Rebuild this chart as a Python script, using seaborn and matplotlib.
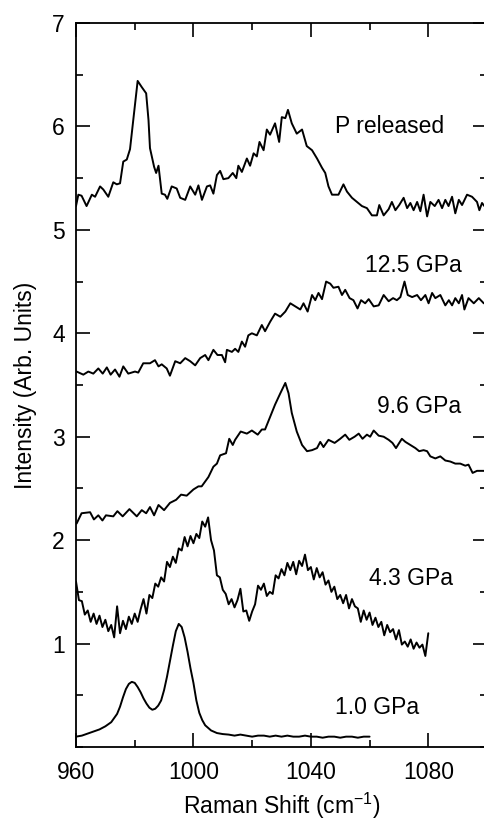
import matplotlib
matplotlib.use("Agg")
import matplotlib.pyplot as plt
import seaborn as sns
import pandas as pd
from matplotlib.ticker import MultipleLocator, FixedLocator

# Raman shift (cm^-1) and intensity (arb. units)
gpa1_x = [960, 962, 964, 966, 968, 970, 972, 974,
          975, 976, 977, 978, 979, 980, 981, 982, 983, 984,
          985, 986, 987, 988, 989, 990, 991, 992, 993, 994,
          995, 996, 997, 998, 999, 1000, 1001, 1002, 1003, 1004,
          1006, 1008, 1010, 1012, 1014, 1016, 1018, 1020, 1022, 1024,
          1026, 1028, 1030, 1032, 1034, 1036, 1038, 1040, 1042, 1044,
          1046, 1048, 1050, 1052, 1054, 1056, 1058, 1060]
gpa1_y = [0.10, 0.11, 0.13, 0.15, 0.17, 0.20, 0.24, 0.32,
          0.39, 0.48, 0.56, 0.61, 0.63, 0.62, 0.58, 0.53, 0.47, 0.42,
          0.38, 0.36, 0.37, 0.40, 0.45, 0.55, 0.68, 0.83, 0.98, 1.12,
          1.19, 1.16, 1.06, 0.92, 0.76, 0.62, 0.45, 0.33, 0.26, 0.21,
          0.16, 0.135, 0.125, 0.12, 0.11, 0.12, 0.11, 0.10, 0.11, 0.11,
          0.10, 0.11, 0.10, 0.11, 0.10, 0.10, 0.11, 0.10, 0.10, 0.09,
          0.10, 0.10, 0.09, 0.10, 0.10, 0.09, 0.10, 0.10]

gpa4_x = [960, 961, 962, 963, 964, 965, 966, 967, 968, 969,
          970, 971, 972, 973, 974, 975, 976, 977, 978, 979,
          980, 981, 982, 983, 984, 985, 986, 987, 988, 989,
          990, 991, 992, 993, 994, 995, 996, 997, 998, 999,
          1000, 1001, 1002, 1003, 1004, 1005, 1006, 1007, 1008, 1009,
          1010, 1011, 1012, 1013, 1014, 1015, 1016, 1017, 1018, 1019,
          1020, 1021, 1022, 1023, 1024, 1025, 1026, 1027, 1028, 1029,
          1030, 1031, 1032, 1033, 1034, 1035, 1036, 1037, 1038, 1039,
          1040, 1041, 1042, 1043, 1044, 1045, 1046, 1047, 1048, 1049,
          1050, 1051, 1052, 1053, 1054, 1055, 1056, 1057, 1058, 1059,
          1060, 1061, 1062, 1063, 1064, 1065, 1066, 1067, 1068, 1069,
          1070, 1071, 1072, 1073, 1074, 1075, 1076, 1077, 1078, 1079,
          1080]
gpa4_y = [1.60, 1.42, 1.41, 1.28, 1.32, 1.21, 1.29, 1.19, 1.27, 1.16,
          1.23, 1.12, 1.18, 1.06, 1.36, 1.10, 1.22, 1.14, 1.26, 1.19,
          1.29, 1.21, 1.33, 1.43, 1.29, 1.47, 1.44, 1.58, 1.55, 1.64,
          1.60, 1.79, 1.74, 1.84, 1.78, 1.92, 1.90, 2.03, 1.94, 2.04,
          1.97, 2.06, 2.02, 2.18, 2.13, 2.22, 2.00, 1.90, 1.66, 1.64,
          1.52, 1.48, 1.38, 1.43, 1.35, 1.42, 1.53, 1.31, 1.32, 1.22,
          1.31, 1.38, 1.56, 1.52, 1.58, 1.46, 1.50, 1.48, 1.66, 1.63,
          1.72, 1.66, 1.78, 1.71, 1.79, 1.67, 1.80, 1.75, 1.86, 1.71,
          1.74, 1.62, 1.73, 1.64, 1.69, 1.57, 1.61, 1.50, 1.55, 1.43,
          1.47, 1.39, 1.47, 1.34, 1.43, 1.36, 1.34, 1.21, 1.32, 1.23,
          1.30, 1.18, 1.25, 1.16, 1.21, 1.08, 1.18, 1.11, 1.14, 1.04,
          1.13, 0.99, 1.02, 0.97, 1.04, 0.95, 1.01, 0.96, 0.99, 0.88,
          1.10]

gpa9_x = [960.2, 961.9, 964.8, 966.1, 967.6, 969.0, 970.2, 972.7, 974.1, 975.9,
          978.2, 980.7, 982.4, 983.9, 985.2, 986.6, 988.1, 990.0, 992.0, 994.1,
          995.8, 997.7, 1000.0, 1001.7, 1002.8, 1005.1, 1006.8, 1008.0, 1009.1, 1011.1,
          1012.2, 1013.4, 1014.2, 1016.1, 1018.2, 1019.9, 1021.9, 1023.3, 1024.4, 1026.1,
          1027.8, 1029.6, 1031.3, 1032.4, 1033.5, 1035.2, 1037.0, 1038.7, 1040.4, 1042.1,
          1043.2, 1044.3, 1046.0, 1048.1, 1050.0, 1051.7, 1053.1, 1054.9, 1056.3, 1057.6,
          1059.1, 1060.2, 1061.4, 1063.1, 1064.8, 1066.5, 1067.8, 1069.0, 1070.1, 1071.0,
          1072.2, 1073.9, 1075.6, 1076.9, 1078.4, 1079.6, 1080.7, 1082.4, 1084.1, 1085.8,
          1087.5, 1089.2, 1090.9, 1092.6, 1093.7, 1095.1, 1096.6, 1098.9, 1100.0]
gpa9_y = [2.16, 2.26, 2.27, 2.20, 2.24, 2.19, 2.24, 2.23, 2.28, 2.23,
          2.30, 2.23, 2.29, 2.26, 2.32, 2.24, 2.34, 2.29, 2.36, 2.39,
          2.44, 2.43, 2.49, 2.52, 2.52, 2.61, 2.71, 2.74, 2.82, 2.84,
          2.98, 2.92, 2.97, 3.05, 3.03, 3.06, 3.02, 3.07, 3.07, 3.19,
          3.31, 3.42, 3.52, 3.42, 3.23, 3.05, 2.92, 2.86, 2.87, 2.89,
          2.95, 2.90, 2.97, 2.94, 2.98, 3.02, 2.97, 3.00, 3.03, 2.98,
          3.02, 3.00, 3.06, 3.01, 3.00, 2.97, 2.94, 2.89, 2.94, 2.98,
          2.95, 2.92, 2.89, 2.86, 2.87, 2.86, 2.81, 2.79, 2.81, 2.77,
          2.76, 2.74, 2.74, 2.72, 2.73, 2.65, 2.67, 2.67, 2.66]

gpa12_x = [960.2, 962.5, 964.2, 965.9, 967.6, 969.1, 970.5, 971.8, 973.3, 974.8,
           976.1, 977.8, 980.1, 981.2, 982.9, 985.2, 986.9, 988.1, 989.2, 990.9,
           992.0, 993.8, 995.5, 997.2, 998.9, 1000.6, 1002.3, 1004.0, 1005.1, 1006.8,
           1008.2, 1009.7, 1010.8, 1011.4, 1013.1, 1014.2, 1015.3, 1016.5, 1017.6, 1018.7,
           1019.9, 1021.6, 1023.3, 1024.4, 1026.1, 1027.8, 1029.6, 1031.3, 1033.0, 1034.7,
           1036.4, 1037.5, 1038.9, 1040.4, 1041.5, 1042.6, 1043.8, 1045.2, 1046.6, 1047.7,
           1049.4, 1050.6, 1051.7, 1053.2, 1054.5, 1055.9, 1057.1, 1058.5, 1059.7, 1061.4,
           1063.1, 1064.8, 1066.5, 1068.0, 1069.3, 1070.5, 1071.9, 1073.0, 1074.5, 1076.2,
           1077.5, 1079.0, 1080.1, 1081.3, 1082.4, 1084.1, 1085.8, 1087.0, 1088.1, 1089.2,
           1090.4, 1091.5, 1092.3, 1093.7, 1095.5, 1097.2, 1098.9, 1100.0]
gpa12_y = [3.63, 3.60, 3.63, 3.61, 3.66, 3.61, 3.67, 3.60, 3.65, 3.58,
           3.68, 3.61, 3.63, 3.62, 3.71, 3.71, 3.74, 3.68, 3.70, 3.66,
           3.59, 3.73, 3.71, 3.76, 3.73, 3.69, 3.76, 3.79, 3.74, 3.84,
           3.79, 3.79, 3.72, 3.84, 3.82, 3.85, 3.82, 3.92, 3.87, 3.98,
           4.00, 3.98, 4.08, 4.02, 4.11, 4.19, 4.16, 4.21, 4.29, 4.26,
           4.23, 4.29, 4.21, 4.37, 4.32, 4.39, 4.33, 4.50, 4.48, 4.44,
           4.45, 4.37, 4.42, 4.34, 4.32, 4.24, 4.32, 4.29, 4.33, 4.26,
           4.27, 4.37, 4.31, 4.34, 4.32, 4.35, 4.50, 4.37, 4.35, 4.37,
           4.32, 4.37, 4.29, 4.39, 4.34, 4.37, 4.27, 4.32, 4.27, 4.34,
           4.29, 4.37, 4.23, 4.34, 4.29, 4.34, 4.29, 4.31]

rel_x = [960.0, 960.8, 961.9, 963.6, 965.4, 966.5, 968.2, 969.3, 971.0, 972.7,
         973.9, 975.0, 976.1, 977.3, 978.4, 979.5, 981.0, 982.4, 983.9, 984.7,
         985.2, 986.6, 987.3, 988.1, 989.2, 990.3, 991.1, 992.6, 994.3, 995.5,
         997.2, 998.9, 1000.6, 1001.7, 1002.9, 1004.6, 1005.7, 1006.8, 1008.0, 1009.1,
         1010.2, 1011.9, 1013.4, 1014.6, 1015.3, 1016.5, 1018.2, 1019.3, 1020.5, 1021.6,
         1022.5, 1023.9, 1025.0, 1026.1, 1027.8, 1029.2, 1030.1, 1031.3, 1032.2, 1033.5,
         1035.2, 1037.0, 1038.6, 1040.4, 1042.1, 1043.8, 1044.9, 1046.0, 1047.2, 1049.4,
         1051.1, 1052.3, 1054.0, 1055.7, 1057.4, 1059.1, 1060.8, 1062.5, 1063.3, 1064.8,
         1066.5, 1067.6, 1068.8, 1070.1, 1071.6, 1072.8, 1073.9, 1075.0, 1076.2, 1077.3,
         1078.4, 1079.6, 1080.7, 1082.2, 1083.5, 1084.7, 1085.8, 1086.9, 1088.1, 1089.2,
         1090.4, 1091.5, 1093.2, 1094.9, 1096.6, 1097.4, 1098.3, 1099.1, 1100.0]
rel_y = [5.23, 5.34, 5.33, 5.23, 5.34, 5.32, 5.42, 5.39, 5.32, 5.46,
         5.44, 5.45, 5.66, 5.68, 5.78, 6.06, 6.44, 6.38, 6.32, 6.06,
         5.79, 5.61, 5.55, 5.62, 5.35, 5.34, 5.30, 5.42, 5.40, 5.31,
         5.29, 5.42, 5.34, 5.43, 5.29, 5.42, 5.43, 5.35, 5.53, 5.57,
         5.49, 5.50, 5.55, 5.50, 5.62, 5.56, 5.69, 5.62, 5.74, 5.71,
         5.85, 5.77, 5.97, 5.92, 6.03, 5.85, 6.09, 6.08, 6.16, 6.03,
         5.93, 5.97, 5.81, 5.77, 5.69, 5.60, 5.55, 5.42, 5.34, 5.34,
         5.44, 5.37, 5.31, 5.27, 5.23, 5.21, 5.14, 5.14, 5.24, 5.14,
         5.20, 5.27, 5.19, 5.24, 5.31, 5.21, 5.26, 5.19, 5.27, 5.18,
         5.34, 5.13, 5.27, 5.23, 5.29, 5.21, 5.29, 5.23, 5.32, 5.16,
         5.29, 5.24, 5.34, 5.32, 5.27, 5.19, 5.26, 5.23, 5.25]

curve_names = ["1.0 GPa", "4.3 GPa", "9.6 GPa", "12.5 GPa", "P released"]
label_x = [1048.3, 1059.7, 1062.5, 1058.5, 1048.3]
label_y = [0.38, 1.63, 3.29, 4.66, 6.0]

sns.set_theme(style="ticks")
plt.rcParams["font.family"] = ["Liberation Sans", "DejaVu Sans"]
plt.rcParams["mathtext.default"] = "regular"
plt.rcParams["text.color"] = "black"
plt.rcParams["axes.labelcolor"] = "black"

fig = plt.figure(figsize=(4.84, 8.22), dpi=100)
ax = fig.add_axes([76 / 484, 75 / 822, 411 / 484, 724 / 822])

series = [(gpa1_x, gpa1_y), (gpa4_x, gpa4_y), (gpa9_x, gpa9_y),
          (gpa12_x, gpa12_y), (rel_x, rel_y)]
for name, (xs, ys) in zip(curve_names, series):
    df = pd.DataFrame({"shift": xs, "intensity": ys})
    sns.lineplot(data=df, x="shift", y="intensity", ax=ax, color="black",
                 linewidth=1.4, sort=False, estimator=None)

for name, tx, ty in zip(curve_names, label_x, label_y):
    ax.text(tx, ty, name, fontsize=16.5, ha="left", va="center", color="black")

ax.set_xlim(960, 1100)
ax.set_ylim(0, 7)
ax.xaxis.set_major_locator(MultipleLocator(40))
ax.xaxis.set_minor_locator(MultipleLocator(20))
ax.yaxis.set_major_locator(FixedLocator([1, 2, 3, 4, 5, 6, 7]))
ax.yaxis.set_minor_locator(MultipleLocator(0.5))

ax.tick_params(which="both", direction="in", top=True, right=True,
               width=1.2, color="black", labelcolor="black")
ax.tick_params(which="major", length=10, labelsize=16.5)
ax.tick_params(which="minor", length=5)
ax.tick_params(axis="x", which="major", pad=10)
ax.tick_params(axis="y", which="major", pad=8)

for sp in ax.spines.values():
    sp.set_linewidth(1.3)
    sp.set_color("black")

ax.set_xlabel("Raman Shift (cm$^{-1}$)", fontsize=16.5, labelpad=5,
              color="black")
ax.set_ylabel("Intensity (Arb. Units)", fontsize=16.5, labelpad=11,
              color="black")

fig.savefig("out.png", dpi=100)
